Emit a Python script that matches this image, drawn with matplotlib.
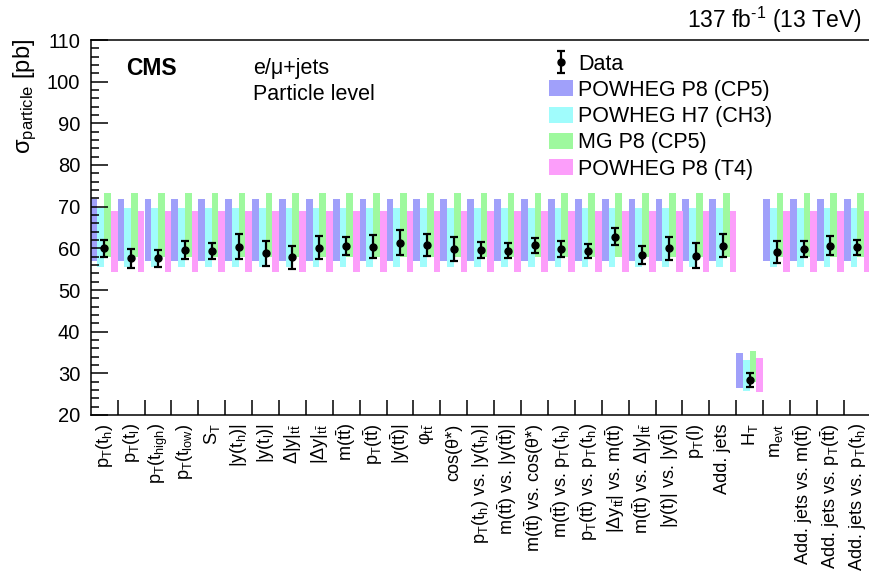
import numpy as np
import matplotlib
matplotlib.use("Agg")
import matplotlib.pyplot as plt
from matplotlib.patches import Patch
from matplotlib.ticker import FixedLocator, MultipleLocator

plt.rcParams['font.family'] = ['Liberation Sans', 'DejaVu Sans']
plt.rcParams['mathtext.fontset'] = 'custom'
plt.rcParams['mathtext.rm'] = 'Liberation Sans'
plt.rcParams['mathtext.it'] = 'Liberation Sans'
plt.rcParams['mathtext.sf'] = 'Liberation Sans'
plt.rcParams['mathtext.bf'] = 'Liberation Sans:bold'

categories = [
    r"p$_T$(t$_h$)", r"p$_T$(t$_l$)", r"p$_T$(t$_{high}$)", r"p$_T$(t$_{low}$)", r"S$_T$",
    r"|y(t$_h$)|", r"|y(t$_l$)|", r"Δ|y|$_{t\bar{t}}$", r"|Δy|$_{t\bar{t}}$", r"m(t$\bar{t}$)",
    r"p$_T$(t$\bar{t}$)", r"|y(t$\bar{t}$)|", r"φ$_{t\bar{t}}$", r"cos(θ*)",
    r"p$_T$(t$_h$) vs. |y(t$_h$)|", r"m(t$\bar{t}$) vs. |y(t$\bar{t}$)|",
    r"m(t$\bar{t}$) vs. cos(θ*)", r"m(t$\bar{t}$) vs. p$_T$(t$_h$)",
    r"p$_T$(t$\bar{t}$) vs. p$_T$(t$_h$)", r"|Δy$_{t\bar{t}}$| vs. m(t$\bar{t}$)",
    r"m(t$\bar{t}$) vs. Δ|y|$_{t\bar{t}}$", r"|y(t)| vs. |y($\bar{t}$)|",
    r"p$_T$(l)", r"Add. jets", r"H$_T$", r"m$_{evt}$",
    r"Add. jets vs. m(t$\bar{t}$)", r"Add. jets vs. p$_T$(t$\bar{t}$)", r"Add. jets vs. p$_T$(t$_h$)",
]

data_val = [60.0, 57.6, 57.6, 59.6, 59.45, 60.4, 58.8, 57.85, 60.2, 60.5,
            60.4, 61.4, 60.8, 59.8, 59.6, 59.45, 60.8, 59.85, 59.3, 62.8,
            58.4, 60.0, 58.2, 60.65, 28.4, 59.2, 59.75, 60.65, 60.25]
data_err = [2.1, 2.2, 2.0, 2.15, 1.9, 3.0, 3.0, 2.8, 2.75, 2.2,
            2.7, 3.0, 2.6, 2.9, 1.85, 1.85, 1.8, 1.9, 1.7, 2.0,
            2.1, 2.7, 3.0, 2.8, 1.6, 2.6, 1.9, 2.3, 1.8]

# prediction bands (low, high) per category
p8cp5_low  = [57.0, 57.0, 57.0, 57.0, 57.0, 57.0, 57.0, 57.0, 57.0, 57.0, 57.0, 57.0, 57.0, 57.0, 57.0,
              57.0, 57.0, 57.0, 57.0, 57.0, 57.0, 57.0, 57.0, 57.0, 26.6, 57.0, 57.0, 57.0, 57.0]
p8cp5_high = [71.8, 71.8, 71.8, 71.8, 71.8, 71.8, 71.8, 71.8, 71.8, 71.8, 71.8, 71.8, 71.8, 71.8, 71.8,
              71.8, 71.8, 71.8, 71.8, 71.8, 71.8, 71.8, 71.8, 71.8, 35.0, 71.8, 71.8, 71.8, 71.8]
h7_low     = [55.6, 55.6, 55.6, 55.6, 55.6, 55.6, 55.6, 55.6, 55.6, 55.6, 55.6, 55.6, 55.6, 55.6, 55.6,
              55.6, 55.6, 55.6, 55.6, 55.6, 55.6, 55.6, 55.6, 55.6, 25.8, 55.6, 55.6, 55.6, 55.6]
h7_high    = [69.6, 69.6, 69.6, 69.6, 69.6, 69.6, 69.6, 69.6, 69.6, 69.6, 69.6, 69.6, 69.6, 69.6, 69.6,
              69.6, 69.6, 69.6, 69.6, 69.6, 69.6, 69.6, 69.6, 69.6, 33.2, 69.6, 69.6, 69.6, 69.6]
mg_low     = [57.85, 57.85, 57.85, 57.85, 57.85, 57.85, 57.85, 57.85, 57.85, 57.85, 57.85, 57.85, 57.85, 57.85, 57.85,
              57.85, 57.85, 57.85, 57.85, 57.85, 57.85, 57.85, 57.85, 57.85, 28.0, 57.85, 57.85, 57.85, 57.85]
mg_high    = [73.2, 73.2, 73.2, 73.2, 73.2, 73.2, 73.2, 73.2, 73.2, 73.2, 73.2, 73.2, 73.2, 73.2, 73.2,
              73.2, 73.2, 73.2, 73.2, 73.2, 73.2, 73.2, 73.2, 73.2, 35.4, 73.2, 73.2, 73.2, 73.2]
t4_low     = [54.4, 54.4, 54.4, 54.4, 54.4, 54.4, 54.4, 54.4, 54.4, 54.4, 54.4, 54.4, 54.4, 54.4, 54.4,
              54.4, 54.4, 54.4, 54.4, 54.4, 54.4, 54.4, 54.4, 54.4, 25.6, 54.4, 54.4, 54.4, 54.4]
t4_high    = [69.0, 69.0, 69.0, 69.0, 69.0, 69.0, 69.0, 69.0, 69.0, 69.0, 69.0, 69.0, 69.0, 69.0, 69.0,
              69.0, 69.0, 69.0, 69.0, 69.0, 69.0, 69.0, 69.0, 69.0, 33.7, 69.0, 69.0, 69.0, 69.0]

model_names = ["POWHEG P8 (CP5)", "POWHEG H7 (CH3)", "MG P8 (CP5)", "POWHEG P8 (T4)"]
model_colors = ["#a0a0fa", "#a0fcfc", "#9ef99e", "#fc9efa"]
model_low = [p8cp5_low, h7_low, mg_low, t4_low]
model_high = [p8cp5_high, h7_high, mg_high, t4_high]

W, H = 869, 575
fig = plt.figure(figsize=(W / 100, H / 100), dpi=100)
left_px, right_px, top_px, bot_px = 90.7, 870.8, 40.0, 415.0
ax = fig.add_axes([left_px / W, 1 - bot_px / H, (right_px - left_px) / W, (bot_px - top_px) / H])

n = len(categories)
edges = np.arange(n)
centers = edges + 0.5
bw = 0.25
for k in range(4):
    lo = np.array(model_low[k])
    hi = np.array(model_high[k])
    ax.bar(edges + k * bw, hi - lo, bottom=lo, width=bw, align='edge',
           color=model_colors[k], linewidth=0, zorder=1)

ax.errorbar(centers, data_val, yerr=data_err, fmt='o', color='k', ms=5,
            elinewidth=1.6, capsize=3.2, capthick=1.6, zorder=3)

ax.set_xlim(0, n)
ax.set_ylim(20, 110)

for s in ['top', 'left', 'bottom', 'right']:
    ax.spines[s].set_linewidth(1.1)
ax.spines['right'].set_visible(False)

ax.yaxis.set_major_locator(MultipleLocator(10))
ax.yaxis.set_minor_locator(MultipleLocator(2))
ax.tick_params(axis='y', which='major', direction='in', length=12, width=1.1,
               labelsize=14.5, pad=7.5, right=False)
ax.tick_params(axis='y', which='minor', direction='in', length=5.5, width=1.1, right=False)

ax.xaxis.set_major_locator(FixedLocator(np.arange(1, n)))
ax.xaxis.set_major_formatter(plt.NullFormatter())
ax.xaxis.set_minor_locator(FixedLocator(centers))
ax.set_xticklabels(categories, minor=True, rotation=90, fontsize=13.1)
ax.tick_params(axis='x', which='major', direction='in', length=11, width=1.1, top=False)
ax.tick_params(axis='x', which='minor', length=0, pad=6, top=False)

# texts
fig.text(25 / W, 1 - 39 / H, r"σ$_{particle}$ [pb]", rotation=90, ha='center', va='top', fontsize=17)
fig.text(862 / W, 1 - 28 / H, r"137 fb$^{\text{-}1}$ (13 TeV)", ha='right', va='baseline', fontsize=16.5)
fig.text(126 / W, 1 - 75 / H, "CMS", ha='left', va='baseline', fontsize=16.5, fontweight='bold')
fig.text(253 / W, 1 - 74 / H, r"e/μ+jets", ha='left', va='baseline', fontsize=15.5)
fig.text(253 / W, 1 - 100 / H, "Particle level", ha='left', va='baseline', fontsize=15.5)

handles = [ax.containers[-1]] + [Patch(facecolor=c, edgecolor='none') for c in model_colors]
labels = ["Data"] + model_names
leg = fig.legend(handles, labels, loc='upper left', bbox_to_anchor=(549.3 / W, 1 - 53.5 / H),
                 frameon=False, fontsize=15.5, borderpad=0, handlelength=1.09, handleheight=0.77,
                 handletextpad=0.26, labelspacing=0.245, borderaxespad=0)

fig.savefig("out.png", dpi=100)
